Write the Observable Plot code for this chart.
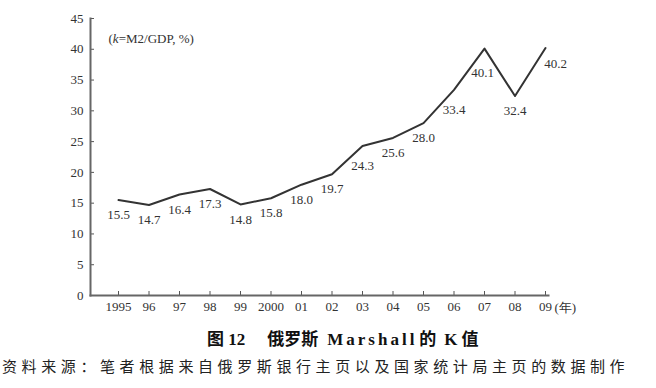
<!DOCTYPE html>
<html><head><meta charset="utf-8">
<script src="https://cdn.jsdelivr.net/npm/d3@7"></script>
<script src="https://cdn.jsdelivr.net/npm/@observablehq/plot@0.6"></script>
<style>
body{margin:0;background:#fff;width:656px;color:#222;}
#chart svg{display:block;}
#title{font-family:"Liberation Serif","Noto Sans CJK SC",serif;font-weight:bold;font-size:17px;line-height:24px;height:24px;margin-top:6px;white-space:nowrap;padding-left:207px;color:#111;}
#title .lat{letter-spacing:3px;}
#caption{font-family:"Noto Sans CJK SC",sans-serif;font-size:15px;letter-spacing:4.6px;line-height:24px;height:24px;margin-top:2px;padding-left:2px;white-space:nowrap;color:#222;}
</style></head><body>
<div id="chart"></div>
<div id="title">图 12<span style="margin-left:22px">俄罗斯</span><span class="lat" style="margin-left:9px">Marshall</span><span style="margin-left:2px">的</span><span style="margin-left:8px">K</span><span style="margin-left:4px">值</span></div>
<div id="caption">资料来源：笔者根据来自俄罗斯银行主页以及国家统计局主页的数据制作</div>
<script>
const years = [1995,1996,1997,1998,1999,2000,2001,2002,2003,2004,2005,2006,2007,2008,2009];
const kValues = [15.5,14.7,16.4,17.3,14.8,15.8,18.0,19.7,24.3,25.6,28.0,33.4,40.1,32.4,40.2];
const xTickLabels = ["1995","96","97","98","99","2000","01","02","03","04","05","06","07","08","09"];
const yTicks = [0,5,10,15,20,25,30,35,40,45];
const unitNote = "(k=M2/GDP, %)";
const yearNote = "(年)";

const data = years.map((y,i)=>({year:y, k:kValues[i], label:kValues[i].toFixed(1)}));
const font = "Liberation Serif, serif";
const steep = new Set([2003, 2006]);
const regular = data.filter(d => !steep.has(d.year) && d.year !== 2007 && d.year !== 2009);

const plot = Plot.plot({
  width: 656,
  height: 322,
  marginLeft: 90,
  marginRight: 108,
  marginTop: 18,
  marginBottom: 27,
  style: {fontFamily: font, fontSize: "13px", color: "#333", background: "#fff"},
  x: {domain:[1995,2009], range:[118,545]},
  y: {domain:[0,45]},
  marks: [
    Plot.axisY({ticks: yTicks, tickSize: -4, tickPadding: 11, tickFormat: d=>String(d), stroke:"#555", fill:"#333", fontSize: 13, label: null}),
    Plot.axisX({ticks: years, tickSize: -4, tickPadding: 10, tickFormat: (d)=>xTickLabels[years.indexOf(d)], stroke:"#555", fill:"#333", fontSize: 13, label: null}),
    Plot.frame({anchor:"left", stroke:"#666", strokeWidth:2}),
    Plot.frame({anchor:"bottom", stroke:"#666", strokeWidth:2}),
    Plot.line(data, {x:"year", y:"k", stroke:"#333", strokeWidth:2}),
    Plot.text(regular, {x:"year", y:"k", text:"label", dy:15, fill:"#333", fontSize:13}),
    Plot.text(data.filter(d => steep.has(d.year)), {x:"year", y:"k", text:"label", dy:20, fill:"#333", fontSize:13}),
    Plot.text(data.filter(d => d.year === 2007), {x:"year", y:"k", text:"label", dx:-2, dy:24, fill:"#333", fontSize:13}),
    Plot.text(data.filter(d => d.year === 2009), {x:"year", y:"k", text:"label", dx:10, dy:16, fill:"#333", fontSize:13}),
    Plot.text([unitNote], {frameAnchor:"top-left", dx:18, dy:15, textAnchor:"start", fill:"#333", fontSize:13}),
    Plot.text([yearNote], {frameAnchor:"bottom-right", dx:6, dy:12, textAnchor:"start", lineAnchor:"middle", fill:"#333", fontSize:13})
  ]
});
document.getElementById("chart").appendChild(plot);
// italic k in the unit note
plot.querySelectorAll("text").forEach(t=>{
  if (t.textContent === unitNote) {
    t.textContent = "";
    const ns = "http://www.w3.org/2000/svg";
    const parts = [["(",null],["k","italic"],["=M2/GDP, %)",null]];
    for (const [s,st] of parts) {
      const ts = document.createElementNS(ns,"tspan");
      ts.textContent = s;
      if (st) ts.setAttribute("font-style", st);
      t.appendChild(ts);
    }
  }
});
</script>
</body></html>
